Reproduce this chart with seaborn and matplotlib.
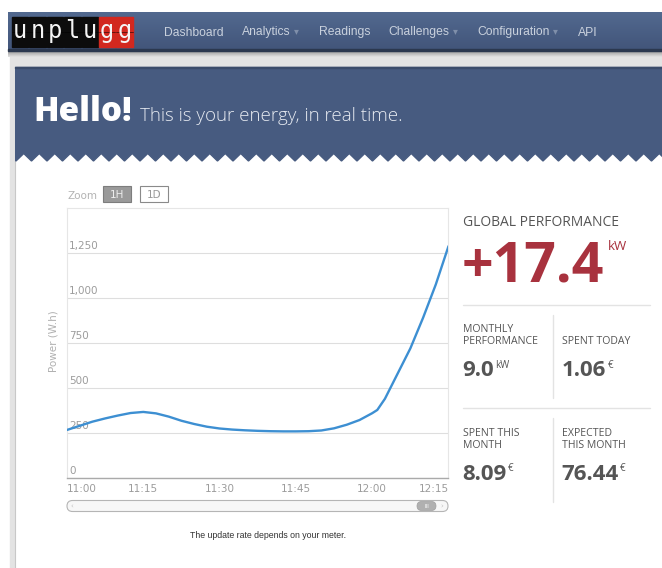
import numpy as np
import pandas as pd
import matplotlib
matplotlib.use("Agg")
import matplotlib.pyplot as plt
from matplotlib.patches import Rectangle, FancyBboxPatch, Polygon
import seaborn as sns

# ---- data -------------------------------------------------------------
# power readings (W.h), minutes after 11:00
minutes = [0, 2.5, 5, 7.5, 10, 12.5, 15, 17.5, 20, 22.5, 25, 27.5, 30, 32.5,
           35, 37.5, 40, 42.5, 45, 47.5, 50, 52.5, 55, 57.5, 60, 61, 62.5, 65,
           67.5, 70, 72.5, 75]
power = [267, 290, 313, 331, 347, 361, 367, 359, 341, 318, 300, 285, 275, 269,
         265, 262, 260, 259, 259, 260, 264, 276, 296, 322, 360, 378, 440, 580,
         720, 890, 1075, 1288]
x_ticks = [0, 15, 30, 45, 60, 75]
x_tick_labels = ["11:00", "11:15", "11:30", "11:45", "12:00", "12:15"]
y_ticks = [0, 250, 500, 750, 1000, 1250]
y_tick_labels = ["0", "250", "500", "750", "1,000", "1,250"]

nav_items = ["Dashboard", "Analytics", "Readings", "Challenges", "Configuration", "API"]
nav_has_menu = [False, True, False, True, True, False]
logo_letters = list("unplugg")

global_label = "GLOBAL PERFORMANCE"
global_value = 17.4
global_unit = "kW"
stat_labels = ["MONTHLY\nPERFORMANCE", "SPENT TODAY", "SPENT THIS\nMONTH", "EXPECTED\nTHIS MONTH"]
stat_values = ["9.0", "1.06", "8.09", "76.44"]
stat_units = ["kW", "€", "€", "€"]

# ---- figure -----------------------------------------------------------
sns.set_style("white")
plt.rcParams["font.family"] = ["DejaVu Sans"]
W, H = 662, 568
fig = plt.figure(figsize=(W / 100, H / 100), dpi=100)
fig.patch.set_facecolor("white")

bg = fig.add_axes([0, 0, 1, 1])
bg.set_xlim(0, W)
bg.set_ylim(H, 0)
bg.axis("off")

# page background
bg.add_patch(Rectangle((10, 48), W, H, color="#e3e3e3", zorder=0))

# navigation bar with gradient
grad = np.linspace(0, 1, 64)[:, None]
nav_cmap = matplotlib.colors.LinearSegmentedColormap.from_list("nav", ["#52698f", "#42557a"])
bg.imshow(grad, extent=(8, W, 50, 12), cmap=nav_cmap, aspect="auto", zorder=1)
bg.add_patch(Rectangle((8, 49), W, 1.6, color="#2b384f", zorder=2))
shadow = np.linspace(0, 1, 32)[:, None]
sh_cmap = matplotlib.colors.LinearSegmentedColormap.from_list("sh", ["#8d8d8d", "#e3e3e3"])
bg.imshow(shadow, extent=(8, W, 57, 50.6), cmap=sh_cmap, aspect="auto", zorder=1)
bg.set_xlim(0, W)
bg.set_ylim(H, 0)

# logo: split-flap letter tiles
tile_w = 17.4
for i, ch in enumerate(logo_letters):
    x0 = 12 + i * tile_w
    col = "#d2281f" if i >= 5 else "#0c0c0c"
    bg.add_patch(Rectangle((x0, 16.5), tile_w - 1.0, 30, color=col, zorder=3))
    bg.plot([x0, x0 + tile_w - 1.0], [31.5, 31.5], color="#000000", lw=0.6, alpha=0.6, zorder=4)
    bg.text(x0 + (tile_w - 1.0) / 2, 38, ch, color="#f4f4f4", fontsize=17,
            family="DejaVu Sans Mono", ha="center", va="baseline", zorder=5)

# navigation items laid out left to right
fig.canvas.draw()
renderer = fig.canvas.get_renderer()
inv = bg.transData.inverted()
x = 164
for item, menu in zip(nav_items, nav_has_menu):
    t = bg.text(x, 35.5, item, color="#c9d1dd", fontsize=8.7,
                family="Liberation Sans", ha="left", va="baseline", zorder=5)
    bb = t.get_window_extent(renderer)
    x_end = inv.transform((bb.x1, bb.y0))[0]
    gap = 18.5
    if menu:
        c = bg.text(x_end + 3, 34.5, "▾", color="#7f8faa", fontsize=7,
                    ha="left", va="baseline", zorder=5)
        cb = c.get_window_extent(renderer)
        x_end = inv.transform((cb.x1, cb.y0))[0]
        gap = 20
    x = x_end + gap

# content panel
bg.add_patch(Rectangle((15, 67), W, H, facecolor="white", edgecolor="#c8c8c8", lw=0.8, zorder=1))

# header with zig-zag lower edge
period = 15.5
pts = [(15, 67.5), (W + 5, 67.5)]
xs = np.arange(W + 5, 15 - period, -period)
for xv in xs:
    pts.append((xv, 161))
    pts.append((xv - period / 2, 153.5))
pts.append((15, 153.5))
header = Polygon(pts, closed=True, color="#475b80", zorder=2)
bg.add_patch(header)
header.set_clip_path(Rectangle((15, 60), W, 120, transform=bg.transData))
bg.add_patch(Rectangle((15, 67), W, 1.2, color="#3a4b6a", zorder=3))

bg.text(33, 121, "Hello!", color="white", fontsize=24, fontweight=800,
        family="Open Sans", ha="left", va="baseline", zorder=5)
bg.text(140, 121, "This is your energy, in real time.", color="#e6eaf1", fontsize=13.5,
        family="Open Sans", fontweight="light", ha="left", va="baseline", zorder=5)

# zoom buttons
bg.text(67, 199, "Zoom", color="#b3b3b3", fontsize=7.5, ha="left", va="baseline", zorder=5)
bg.add_patch(Rectangle((103, 186), 28, 16, facecolor="#9a9a9a", edgecolor="#7d7d7d", lw=0.8, zorder=4))
bg.text(117, 194.5, "1H", color="#eeeeee", fontsize=7.5, ha="center", va="center", zorder=5)
bg.add_patch(Rectangle((140, 186), 28, 16, facecolor="white", edgecolor="#8a8a8a", lw=0.8, zorder=4))
bg.text(154, 194.5, "1D", color="#999999", fontsize=7.5, ha="center", va="center", zorder=5)

# ---- chart ------------------------------------------------------------
df = pd.DataFrame({"minute": minutes, "power": power})
ax = fig.add_axes([67 / W, 1 - 478 / H, (448.5 - 67) / W, (478 - 208) / H])
ax.set_zorder(5)
sns.lineplot(data=df, x="minute", y="power", ax=ax, color="#3d8fd2", linewidth=1.7, zorder=4)
ax.set_xlim(0, 75)
ax.set_ylim(0, 1500)
ax.set_xlabel("")
ax.set_ylabel("")
ax.set_yticks(y_ticks)
ax.set_yticklabels([])
ax.tick_params(axis="y", length=0)
ax.grid(axis="y", color="#dedede", lw=0.8)
ax.grid(axis="x", visible=False)
for v, lab in zip(y_ticks, y_tick_labels):
    ax.annotate(lab, xy=(0, v), xycoords=ax.get_yaxis_transform(), xytext=(1.6, 1.2),
                textcoords="offset points", ha="left", va="bottom", color="#9c9c9c",
                fontsize=7.5, zorder=2)
ax.set_xticks(x_ticks)
ax.set_xticklabels(x_tick_labels)
ax.tick_params(axis="x", direction="out", length=3.8, width=0.8, color="#aaaaaa",
               labelcolor="#9c9c9c", labelsize=7.5, pad=0.5)
xl = ax.get_xticklabels()
xl[0].set_horizontalalignment("left")
xl[-1].set_horizontalalignment("right")
for side in ["top", "left", "right"]:
    ax.spines[side].set_color("#e6e6e6")
    ax.spines[side].set_linewidth(0.8)
ax.spines["bottom"].set_color("#aaaaaa")
ax.spines["bottom"].set_linewidth(1.0)

bg.text(53, 341, "Power (W.h)", rotation=90, color="#b0b0b0", fontsize=7.5,
        ha="center", va="center", zorder=5)

# navigator scrollbar
bg.add_patch(FancyBboxPatch((67, 500.5), 381, 11, boxstyle="round,pad=0,rounding_size=5.5",
                            facecolor="#f7f7f7", edgecolor="#b5b5b5", lw=0.8, zorder=4))
bg.add_patch(FancyBboxPatch((417, 501.5), 19, 9, boxstyle="round,pad=0,rounding_size=4.5",
                            facecolor="#b0b0b0", edgecolor="#a0a0a0", lw=0.5, zorder=5))
bg.text(426.5, 506.3, "III", color="white", fontsize=4, ha="center", va="center", zorder=6)
bg.text(72, 506, "‹", color="#c0c0c0", fontsize=5, ha="center", va="center", zorder=6)
bg.text(442, 506, "›", color="#c0c0c0", fontsize=5, ha="center", va="center", zorder=6)

bg.text(268, 535, "The update rate depends on your meter.", color="#333333", fontsize=6.3,
        family="Liberation Sans", ha="center", va="center", zorder=5)

# ---- performance panel --------------------------------------------------
red = "#a8323e"
txt = "#555555"
bg.text(463, 226, global_label, color=txt, fontsize=10, family="Open Sans",
        ha="left", va="baseline", zorder=5)
gv = bg.text(462, 282, f"+{global_value:.1f}", color=red, fontsize=40, fontweight="bold",
             family="Open Sans", ha="left", va="baseline", zorder=5)
bg.annotate(global_unit, xy=(1, 1), xycoords=gv, xytext=(2.5, 0.0), textcoords="offset points",
            color=red, fontsize=9.5, family="Open Sans", ha="left", va="top", zorder=5)

for yv in [305, 408]:
    bg.plot([463, 650], [yv, yv], color="#e3e3e3", lw=1.0, zorder=4)
for y0, y1 in [(315, 398), (418, 502)]:
    bg.plot([552.5, 552.5], [y0, y1], color="#e3e3e3", lw=1.0, zorder=4)

cell_x = [463, 562, 463, 562]
cell_label_y = [344, 344, 448, 448]
cell_value_y = [376.5, 376.5, 480, 480]
for lab, val, unit, cx, ly, vy in zip(stat_labels, stat_values, stat_units,
                                      cell_x, cell_label_y, cell_value_y):
    bg.text(cx, ly, lab, color=txt, fontsize=7.6, family="Open Sans", linespacing=1.15,
            ha="left", va="baseline", multialignment="left", zorder=5)
    v = bg.text(cx - 0.5, vy, val, color=txt, fontsize=16, fontweight="bold",
                family="Open Sans", ha="left", va="baseline", zorder=5)
    bg.annotate(unit, xy=(1, 1), xycoords=v, xytext=(1, 0.5), textcoords="offset points",
                color=txt, fontsize=7, family="Open Sans", ha="left", va="top", zorder=5)

fig.savefig("out.png", dpi=100)
